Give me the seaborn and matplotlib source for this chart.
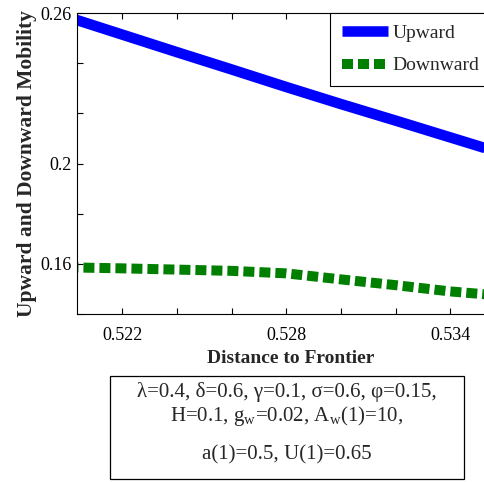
import matplotlib
matplotlib.use("Agg")
import matplotlib.pyplot as plt
from matplotlib.patches import Rectangle
import seaborn as sns
import pandas as pd

# data
distance = [0.520, 0.522, 0.524, 0.526, 0.528, 0.530, 0.532, 0.534, 0.536]
upward = [0.2584, 0.2514, 0.2444, 0.2375, 0.2305, 0.2237, 0.2171, 0.2104, 0.2037]
downward = [0.1586, 0.1582, 0.1577, 0.1572, 0.1562, 0.1538, 0.1515, 0.1490, 0.1472]

x_ticks = [0.522, 0.524, 0.526, 0.528, 0.530, 0.532, 0.534]
x_labels = ["0.522", "", "", "0.528", "", "", "0.534"]
y_ticks = [0.14, 0.16, 0.18, 0.20, 0.22, 0.24, 0.26]
y_labels = ["", "0.16", "", "0.2", "", "", "0.26"]

param_lines = [
    "λ=0.4, δ=0.6, γ=0.1, σ=0.6, φ=0.15,",
    r"H=0.1, g$_\mathrm{w}$=0.02, A$_\mathrm{w}$(1)=10,",
    "a(1)=0.5, U(1)=0.65",
]

sns.set_theme(style="white")
plt.rcParams["font.family"] = ["Liberation Serif", "DejaVu Serif"]
plt.rcParams["mathtext.fontset"] = "custom"
plt.rcParams["mathtext.rm"] = "Liberation Serif"
plt.rcParams["mathtext.it"] = "Liberation Serif:italic"

df = pd.DataFrame({"distance": distance, "Upward": upward, "Downward": downward})

fig = plt.figure(figsize=(4.84, 4.82), dpi=100)
ax = fig.add_axes([77 / 484, 1 - 314 / 482, 428 / 484, 301 / 482])

sns.lineplot(data=df, x="distance", y="Upward", color="#0000ff",
             linewidth=7.6, solid_capstyle="butt", label="Upward", ax=ax)
sns.lineplot(data=df, x="distance", y="Downward", color="#007f00",
             linewidth=7.2, linestyle=(0, (1.1, 0.5)), label="Downward", ax=ax)

ax.set_xlim(0.52035, 0.536)
ax.set_ylim(0.14, 0.26)
ax.set_xticks(x_ticks)
ax.set_xticklabels(x_labels, fontsize=13)
ax.set_yticks(y_ticks)
ax.set_yticklabels(y_labels, fontsize=13)
ax.tick_params(direction="in", length=4.5, width=0.8, top=True, right=True,
               bottom=True, left=True, colors="black", pad=4)
ax.tick_params(axis="x", pad=9)

for s in ax.spines.values():
    s.set_color("black")
    s.set_linewidth(0.8)

ax.set_xlabel("Distance to Frontier", fontsize=14, fontweight="bold", labelpad=5)
ax.set_ylabel("Upward and Downward Mobility", fontsize=15.5, fontweight="bold", labelpad=2)

leg = ax.legend(loc="upper left", bbox_to_anchor=(330 / 484, 1 - 13 / 482),
                bbox_transform=fig.transFigure, fontsize=14, frameon=True,
                fancybox=False, edgecolor="black", framealpha=1,
                handlelength=2.4, handletextpad=0.2, borderaxespad=0,
                borderpad=0.6, labelspacing=0.75)
leg.get_frame().set_linewidth(0.8)

# parameter box below the axes
fig.patches.append(Rectangle((110 / 484, 1 - 479 / 482), 354 / 484, 103 / 482,
                             transform=fig.transFigure, fill=False,
                             edgecolor="black", linewidth=0.9))
for txt, ypx in zip(param_lines, [392, 416, 455]):
    fig.text(287 / 484, 1 - ypx / 482, txt, ha="center", va="center", fontsize=15)

fig.savefig("out.png", dpi=100)
